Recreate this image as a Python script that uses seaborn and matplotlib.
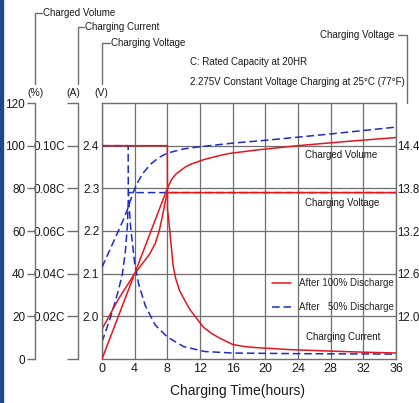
import numpy as np
import pandas as pd
import matplotlib
matplotlib.use("Agg")
import matplotlib.pyplot as plt
import seaborn as sns
from matplotlib.lines import Line2D
from matplotlib.patches import Rectangle

# ---- axis ticks / labels ----
hour_ticks = [0, 4, 8, 12, 16, 20, 24, 28, 32, 36]
volt_ticks = [2.0, 2.1, 2.2, 2.3, 2.4]
pct_ticks = [0, 20, 40, 60, 80, 100, 120]
cur_ticks = [0, 0.02, 0.04, 0.06, 0.08, 0.10, 0.12]
cur_labels = ["", "0.02C", "0.04C", "0.06C", "0.08C", "0.10C", ""]
v12_ticks = [12.0, 12.6, 13.2, 13.8, 14.4]

case_100 = "After 100% Discharge"
case_50 = "After   50% Discharge"

# ---- after 100% discharge ----
r_cur_h = [0, 8.0, 8.02, 8.15, 8.3, 8.5, 8.7, 9.0, 9.5, 10.2, 10.8, 11.6, 12.4, 13.4,
           14.4, 16, 17.5, 19, 23, 28, 32, 36]
r_cur = [0.100, 0.100, 0.070, 0.066, 0.060, 0.052, 0.044, 0.038, 0.032, 0.027, 0.023,
         0.019, 0.015, 0.012, 0.0098, 0.0068, 0.0058, 0.0053, 0.0044, 0.0037, 0.0032, 0.0028]
r_vol_h = [0, 8, 8.5, 9, 9.5, 10.2, 11, 12.5, 14, 15.5, 19, 24, 30, 36]
r_vol = [0, 80, 84, 86.5, 88, 90, 91.5, 93.5, 95, 96.3, 98, 100, 102, 103.8]
r_volt_h = [0, 1, 2, 3, 4, 5, 5.8, 6.5, 7.0, 7.4, 7.7, 8.0, 36]
r_volt = [1.97, 2.005, 2.04, 2.07, 2.10, 2.125, 2.145, 2.17, 2.20, 2.235, 2.265, 2.29, 2.29]

# ---- after 50% discharge ----
b_cur_h = [0, 3.2, 3.22, 3.5, 4.0, 4.5, 5.3, 6.5, 8.0, 10.0, 12.6, 16, 24, 36]
b_cur = [0.100, 0.100, 0.078, 0.062, 0.045, 0.035, 0.025, 0.016, 0.0103, 0.0058,
         0.0035, 0.0028, 0.0025, 0.0023]
b_vol_h = [0, 1, 2, 2.7, 3.2, 3.8, 4.4, 5, 6, 7, 8, 10, 12, 16, 20, 28, 36]
b_vol = [43, 51.5, 60, 66, 71, 78, 83, 87, 91.5, 94.5, 96.5, 98.5, 99.5, 101.2, 102.5,
         105.5, 108.7]
b_volt_h = [0, 1, 2, 2.5, 2.85, 3.1, 3.25, 36]
b_volt = [1.94, 1.995, 2.06, 2.10, 2.15, 2.21, 2.29, 2.29]


def long_df(h50, v50, h100, v100):
    return pd.concat([
        pd.DataFrame({"hours": h50, "value": v50, "case": case_50}),
        pd.DataFrame({"hours": h100, "value": v100, "case": case_100}),
    ], ignore_index=True)


df_cur = long_df(b_cur_h, b_cur, r_cur_h, r_cur)
df_vol = long_df(b_vol_h, b_vol, r_vol_h, r_vol)
df_volt = long_df(b_volt_h, b_volt, r_volt_h, r_volt)

RED = "#e3161e"
BLUE = "#1c2cc8"
GRID = "#6e6e6e"
TXT = "#1a1a1a"
palette = {case_100: RED, case_50: BLUE}
dashes = {case_100: "", case_50: (5, 2.5)}
order = [case_50, case_100]

sns.set_style("white")
plt.rcParams["font.family"] = ["Liberation Sans", "DejaVu Sans"]

W, H = 419, 403
fig = plt.figure(figsize=(W / 100, H / 100), dpi=100)
L, R, T, B = 102, 396, 103, 359
ax = fig.add_axes([L / W, 1 - B / H, (R - L) / W, (B - T) / H])
ax_cur = ax.twinx()
ax_pct = ax.twinx()
ax_r = ax.twinx()

# ---- curves ----
common = dict(x="hours", y="value", hue="case", style="case", hue_order=order,
              style_order=order, palette=palette, dashes=dashes, sort=False,
              estimator=None, legend=False, linewidth=1.1)
sns.lineplot(data=df_volt, ax=ax, **common)
sns.lineplot(data=df_cur, ax=ax_cur, **common)
sns.lineplot(data=df_vol, ax=ax_pct, **common)

# ---- main (voltage) axis ----
ax.set_xlim(0, 36)
ax.set_ylim(1.9, 2.5)
ax.set_xticks(hour_ticks, labels=[str(t) for t in hour_ticks], fontsize=9)
ax.set_yticks(volt_ticks, labels=[f"{t:.1f}" for t in volt_ticks], fontsize=8.5)
ax.tick_params(axis="both", length=0, colors=TXT)
ax.tick_params(axis="x", pad=3)
ax.tick_params(axis="y", pad=2)
ax.grid(True, color=GRID, linewidth=0.9)
ax.set_axisbelow(True)
for s in ax.spines.values():
    s.set_color(GRID)
    s.set_linewidth(1.0)
ax.set_xlabel("Charging Time(hours)", fontsize=10, color=TXT, va="center")
ax.xaxis.set_label_coords((237 - L) / (R - L), -(391 - B) / (B - T))
ax.set_ylabel("")

# ---- offset left axes: current and charged volume ----
for a, pos, ticks, labels, ylim, tlen in [
    (ax_pct, 35, pct_ticks, [str(t) for t in pct_ticks], (0, 120), 6),
    (ax_cur, 78, cur_ticks, cur_labels, (0, 0.12), 8),
]:
    a.set_ylim(*ylim)
    a.set_ylabel("")
    for side in ["top", "bottom", "right"]:
        a.spines[side].set_visible(False)
    a.spines["left"].set_visible(True)
    a.spines["left"].set_position(("axes", -(L - pos) / (R - L)))
    a.spines["left"].set_color(GRID)
    a.spines["left"].set_linewidth(1.0)
    a.yaxis.set_ticks_position("left")
    a.yaxis.set_label_position("left")
    a.set_yticks(ticks, labels=labels, fontsize=8.5)
    a.tick_params(axis="y", length=tlen, width=1.0, color=GRID, pad=1, labelcolor=TXT)

# ---- right 12 V axis ----
ax_r.set_ylim(11.4, 15.0)
for s in ax_r.spines.values():
    s.set_visible(False)
ax_r.set_yticks(v12_ticks, labels=[f"{t:.1f}" for t in v12_ticks], fontsize=8.3)
ax_r.tick_params(axis="y", length=0, pad=0.5, labelcolor=TXT)
ax_r.set_ylabel("")

# ---- legend ----
handles = [Line2D([], [], color=RED, lw=1.1),
           Line2D([], [], color=BLUE, lw=1.1, ls=(0, (5, 2.5)))]
ax_r.legend(handles, [case_100, case_50], loc="upper left",
            bbox_to_anchor=((272 - L) / (R - L), (B - 278) / (B - T)),
            frameon=False, fontsize=7, handlelength=2.0, handletextpad=0.8,
            labelspacing=1.45, borderpad=0, borderaxespad=0)

# ---- texts and axis-name brackets ----
def fx(x):
    return x / W


def fy(y):
    return 1 - y / H


def bracket(xs, ys):
    fig.add_artist(Line2D([fx(x) for x in xs], [fy(y) for y in ys],
                          color=GRID, lw=1.0, transform=fig.transFigure))


bracket([42, 35, 35], [13, 13, 84])
fig.text(fx(43), fy(13), "Charged Volume", fontsize=7, color=TXT, va="center")
bracket([84, 78, 78], [27, 27, 84])
fig.text(fx(85), fy(27), "Charging Current", fontsize=7, color=TXT, va="center")
bracket([110, 102, 102], [43, 43, 84])
fig.text(fx(111), fy(43), "Charging Voltage", fontsize=7, color=TXT, va="center")
bracket([398, 407, 407], [35, 35, 103])
fig.text(fx(394), fy(35), "Charging Voltage", fontsize=7, color=TXT, va="center", ha="right")

for x, s in [(35, "(%)"), (73, "(A)"), (101, "(V)")]:
    fig.text(fx(x), fy(93), s, fontsize=7.5, color=TXT, ha="center", va="center")

fig.text(fx(190), fy(62), "C: Rated Capacity at 20HR", fontsize=7, color=TXT, va="center")
fig.text(fx(190), fy(82), "2.275V Constant Voltage Charging at 25\u00b0C (77\u00b0F)",
         fontsize=7, color=TXT, va="center")

fig.text(fx(305), fy(155), "Charged Volume", fontsize=7, color=TXT, va="center")
fig.text(fx(305), fy(203), "Charging Voltage", fontsize=7, color=TXT, va="center")
fig.text(fx(306), fy(337), "Charging Current", fontsize=7, color=TXT, va="center")

# thin dark edge on the left of the picture
fig.add_artist(Rectangle((0, 0), 3 / W, 1, color="#1d4a8a", transform=fig.transFigure))

fig.savefig("out.png", dpi=100)
